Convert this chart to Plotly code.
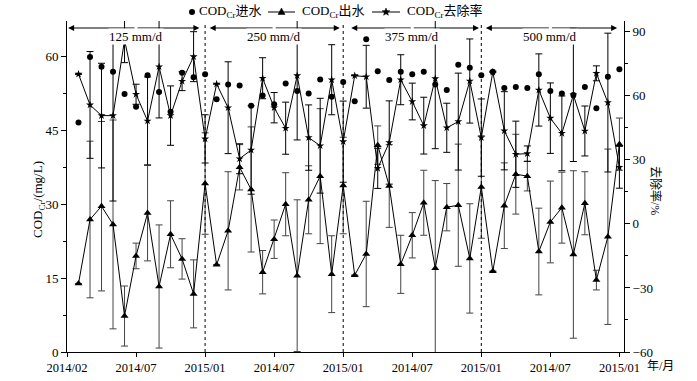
import math
import plotly.graph_objects as go

# ---------------- data ----------------
idx = list(range(1, 49))
tick_vals = [0, 6, 12, 18, 24, 30, 36, 42, 48]
tick_text = ["2014/02", "2014/07", "2015/01", "2014/07", "2015/01",
             "2014/07", "2015/01", "2014/07", "2015/01"]

cod_in = [46.6, 59.9, 57.9, 56.9, 52.4, 49.8, 56.2, 52.8, 48.8, 56.7, 55.8, 56.4,
          51.3, 54.3, 54.1, 50.0, 52.1, 50.3, 54.5, 53.0, 52.5, 55.3, 51.8, 54.8,
          50.9, 63.5, 57.0, 55.2, 56.9, 56.4, 56.9, 54.3, 53.2, 58.3, 57.7, 56.2,
          56.9, 53.6, 53.8, 53.6, 56.4, 53.0, 52.5, 52.2, 53.8, 49.5, 55.9, 57.4]

cod_out = [13.9, 26.9, 29.6, 25.9, 7.3, 19.5, 28.2, 13.3, 23.9, 18.9, 11.8, 34.2,
           17.7, 24.6, 37.5, 33.0, 16.2, 22.9, 30.0, 15.5, 30.9, 35.7, 15.8, 33.8,
           15.6, 19.9, 42.0, 33.7, 17.8, 23.7, 30.3, 17.0, 29.4, 29.8, 19.0, 33.5,
           16.4, 29.7, 36.1, 35.7, 20.4, 26.4, 29.3, 19.8, 30.2, 14.6, 23.4, 42.2]

cod_out_err = [None, 15.9, 17.2, 21.2, 6.1, 2.6, 9.7, 12.5, 6.8, 4.1, 6.9, 10.3,
               None, 12.0, 4.6, 12.7, 4.4, 3.9, 6.4, 15.4, 6.9, 13.7, 7.8, 9.8,
               None, 10.7, 3.9, 8.4, 5.9, 4.6, 6.6, 17.8, 4.8, 12.4, 11.1, 10.4,
               None, 8.7, 8.1, 3.0, 8.8, 8.3, 7.2, 17.0, 6.4, 2.0, 17.8, 5.3]

removal = [70.1, 55.7, 50.7, 50.7, 86.1, 60.7, 48.2, 73.6, 50.7, 66.8, 78.3, 39.8,
           65.5, 54.4, 30.5, 34.6, 68.2, 54.4, 44.8, 69.4, 40.4, 36.6, 67.5, 38.5,
           69.4, 68.9, 26.0, 38.1, 67.5, 57.3, 46.0, 68.0, 45.0, 47.9, 66.9, 40.4,
           71.1, 43.6, 32.6, 32.9, 62.7, 49.5, 42.4, 60.4, 43.5, 70.5, 56.8, 26.5]

removal_err = [None, 25.0, 24.5, 40.0, 10.6, 4.7, 20.6, 24.0, 13.9, 4.4, 11.7, 11.3,
               None, 21.5, 7.0, 20.7, 9.6, 7.1, 12.2, 30.1, 15.3, 22.2, 16.4, 19.0,
               None, 14.7, 9.4, 19.5, 11.7, 8.6, 13.3, 32.8, 11.5, 22.7, 19.7, 18.1,
               None, 18.3, 15.5, 3.6, 16.9, 16.5, 17.5, 31.2, 11.7, 3.5, 32.5, 9.8]

series_names = ["COD<sub>Cr</sub>进水", "COD<sub>Cr</sub>出水", "COD<sub>Cr</sub>去除率"]

periods = ["125 mm/d", "250 mm/d", "375 mm/d", "500 mm/d"]
period_centers = [6, 18, 30, 42]
period_left = [0.1, 12.4, 24.7, 36.4]
period_right = [11.5, 23.7, 35.8, 47.8]
boundaries = [12, 24, 36]

FONT = "Liberation Serif, 'Noto Sans CJK SC', serif"

W, H = 697, 381
PL, PR, PT, PB = 67, 624, 21, 352
PW, PH = PR - PL, PB - PT


def px(xw):
    return (xw - PL) / PW


def py(yw):
    return (PB - yw) / PH


fig = go.Figure()

fig.add_trace(go.Scatter(
    x=idx, y=cod_in, mode="markers", name=series_names[0],
    marker=dict(symbol="circle", size=6, color="black"), yaxis="y"))

fig.add_trace(go.Scatter(
    x=idx, y=cod_out, mode="lines+markers", name=series_names[1],
    marker=dict(symbol="triangle-up", size=7, color="black"),
    line=dict(color="black", width=1),
    error_y=dict(type="data", array=cod_out_err, symmetric=True,
                 color="#444444", thickness=1, width=3.5),
    yaxis="y"))

fig.add_trace(go.Scatter(
    x=idx, y=removal, mode="lines+markers", name=series_names[2],
    marker=dict(symbol="star", size=6, color="black"),
    line=dict(color="black", width=1),
    error_y=dict(type="data", array=removal_err, symmetric=True,
                 color="black", thickness=1, width=3.5),
    yaxis="y2"))

shapes = []
for b in boundaries:
    shapes.append(dict(type="line", xref="x", yref="paper", x0=b, x1=b,
                       y0=0, y1=0.99, line=dict(color="black", width=1, dash="dot")))

# ----- manual legend -----
leg_y = 12
black = dict(color="black", width=1)
shapes.append(dict(type="circle", xref="paper", yref="paper",
                   x0=px(189), x1=px(195), y0=py(leg_y + 3), y1=py(leg_y - 3),
                   fillcolor="black", line=dict(color="black", width=0)))
for x0, x1 in [(268, 295), (372, 400)]:
    shapes.append(dict(type="line", xref="paper", yref="paper", x0=px(x0), x1=px(x1),
                       y0=py(leg_y), y1=py(leg_y), line=black))
tcx = 281.5
tri = [(tcx, leg_y - 4), (tcx - 3.5, leg_y + 2.5), (tcx + 3.5, leg_y + 2.5)]
shapes.append(dict(type="path", xref="paper", yref="paper",
                   path="M " + " L ".join(f"{px(a)},{py(b)}" for a, b in tri) + " Z",
                   fillcolor="black", line=dict(color="black", width=0.5)))
scx, R_o, R_i = 386, 4.0, 1.7
pts = []
for k in range(10):
    r = R_o if k % 2 == 0 else R_i
    ang = -math.pi / 2 + k * math.pi / 5
    pts.append((scx + r * math.cos(ang), leg_y + r * math.sin(ang)))
shapes.append(dict(type="path", xref="paper", yref="paper",
                   path="M " + " L ".join(f"{px(a)},{py(b)}" for a, b in pts) + " Z",
                   fillcolor="black", line=dict(color="black", width=0.5)))

annotations = []
for xt, name in zip([197, 300, 405], series_names):
    annotations.append(dict(x=px(xt), y=py(leg_y), xref="paper", yref="paper",
                            xanchor="left", yanchor="middle", text=name, showarrow=False,
                            font=dict(family=FONT, size=13, color="black")))

ya = py(28)
for lab, c, l, r in zip(periods, period_centers, period_left, period_right):
    for end in (l, r):
        annotations.append(dict(x=end, y=ya, xref="x", yref="paper",
                                ax=c, ay=0, axref="x", ayref="pixel",
                                text="", showarrow=True, arrowhead=2,
                                arrowsize=1.2, arrowwidth=1, arrowcolor="black"))
    annotations.append(dict(x=c, y=ya, xref="x", yref="paper", text=lab,
                            showarrow=False, bgcolor="white",
                            font=dict(family=FONT, size=13, color="black"),
                            borderpad=0))

annotations.append(dict(x=px(38), y=py(200), xref="paper", yref="paper",
                        xanchor="center", yanchor="middle",
                        text="COD<sub>Cr</sub>/(mg/L)", textangle=-90,
                        showarrow=False, font=dict(family=FONT, size=13, color="black")))
annotations.append(dict(x=px(656), y=py(190), xref="paper", yref="paper",
                        xanchor="center", yanchor="middle",
                        text="去除率/%", textangle=90,
                        showarrow=False, font=dict(family=FONT, size=12, color="black")))
annotations.append(dict(x=px(645), y=py(366), xref="paper", yref="paper",
                        text="年/月", showarrow=False, xanchor="left", yanchor="middle",
                        font=dict(family=FONT, size=12, color="black")))

fig.update_layout(
    width=W, height=H,
    margin=dict(l=PL, r=W - PR, t=PT, b=H - PB, autoexpand=False),
    paper_bgcolor="white", plot_bgcolor="white",
    font=dict(family=FONT, size=13, color="black"),
    showlegend=False,
    xaxis=dict(range=[0, 48.4], tickmode="array", tickvals=tick_vals, ticktext=tick_text,
               showline=True, linecolor="black", linewidth=1, ticks="outside",
               ticklen=4, tickcolor="black", showgrid=False, zeroline=False,
               tickfont=dict(size=12.5)),
    yaxis=dict(range=[0, 67.2], tickvals=[0, 15, 30, 45, 60],
               showline=True, linecolor="black", linewidth=1, ticks="outside",
               ticklen=5, tickcolor="black", showgrid=False, zeroline=False,
               minor=dict(dtick=7.5, ticks="outside", ticklen=3, tickcolor="black")),
    yaxis2=dict(range=[-60, 95], tickvals=[-60, -30, 0, 30, 60, 90], overlaying="y",
                side="right", showline=True, linecolor="black", linewidth=1,
                ticks="outside", ticklen=5, tickcolor="black", showgrid=False,
                zeroline=False,
                minor=dict(dtick=15, ticks="outside", ticklen=3, tickcolor="black")),
    shapes=shapes,
    annotations=annotations,
)

fig.write_html("out.html",
               config={"displayModeBar": False},
               post_script="document.body.style.margin='0';document.body.style.overflow='hidden';")
